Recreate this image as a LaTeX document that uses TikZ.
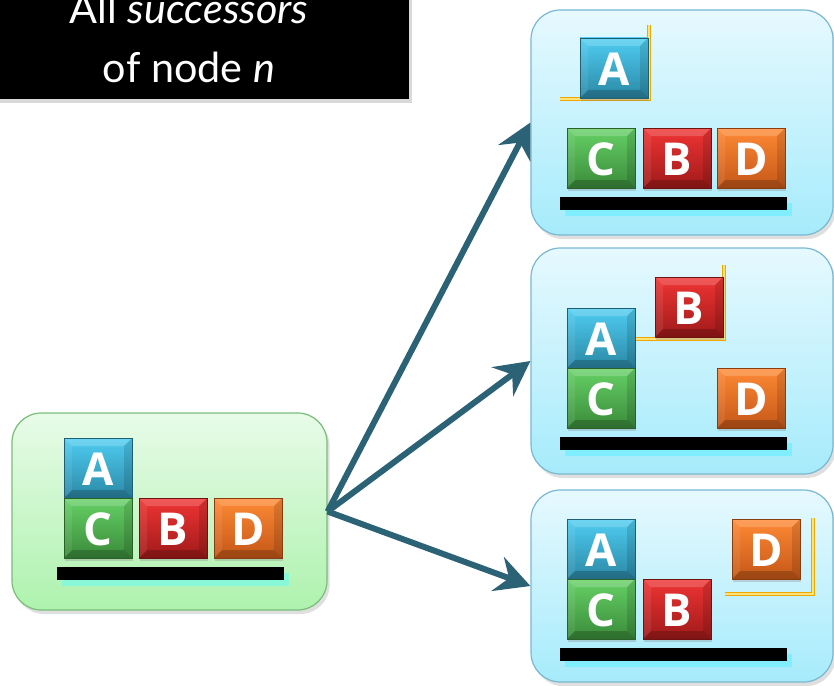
\documentclass[tikz,border=0pt]{standalone}
\usepackage{fontspec}
\usetikzlibrary{shadows,arrows.meta}
\newfontfamily\titlefont{Lato}
\newfontfamily\blkfont{Open Sans}
\definecolor{Atop}{HTML}{4FCDF2}
\definecolor{Abot}{HTML}{2B88A6}
\definecolor{Ctop}{HTML}{66D166}
\definecolor{Cbot}{HTML}{3A8A3A}
\definecolor{Btop}{HTML}{F03434}
\definecolor{Bbot}{HTML}{A01A1A}
\definecolor{Dtop}{HTML}{FF8A35}
\definecolor{Dbot}{HTML}{C45718}
\definecolor{arrcol}{HTML}{2B6275}
\definecolor{yelline}{HTML}{F0A800}
\definecolor{yelfill}{HTML}{FFE27A}
\definecolor{gtop}{HTML}{E8FBE8}
\definecolor{gbot}{HTML}{AEF2AE}
\definecolor{gborder}{HTML}{78BE78}
\definecolor{btop}{HTML}{E6F9FE}
\definecolor{bbot}{HTML}{A6EBFB}
\definecolor{bborder}{HTML}{78B8D2}
\definecolor{mint}{HTML}{88F8D8}
\definecolor{cyanish}{HTML}{80EEFF}
\tikzset{
  statebox/.style={draw=#1border, line width=0.9pt, top color=#1top, bottom color=#1bot,
    rounded corners=22pt, inner sep=0pt,
    drop shadow={shadow xshift=2pt, shadow yshift=-3pt, opacity=.25}},
  blktext/.style={text=white, font=\blkfont\bfseries\fontsize{34}{34}\selectfont, inner sep=0pt},
  blkshadow/.style={drop shadow={shadow xshift=1pt, shadow yshift=-2pt, opacity=.3}},
  titletext/.style={text=white, font=\titlefont\fontsize{31}{34}\selectfont, inner sep=0pt, anchor=base},
  arr/.style={draw=arrcol, line width=4.5pt, -{Stealth[length=26pt,width=27pt,inset=9pt]}},
  holdline/.style={draw=yelline, line width=0.7pt, double=yelfill, double distance=1.3pt},
}
\newcommand\blk[5]{%
  \path[blkshadow, fill=#4bot] (#2,#3) rectangle ++(68,60);
  \shade[top color=#4top, bottom color=#4bot] (#2,#3) rectangle ++(68,60);
  \fill[white,opacity=.18] (#2,#3) -- ++(68,0) -- ++(-8,8) -- ++(-52,0) -- cycle;
  \fill[white,opacity=.08] (#2,#3) -- ++(8,8) -- ++(0,44) -- ++(-8,8) -- cycle;
  \fill[black,opacity=.12] (#2+68,#3) -- ++(0,60) -- ++(-8,-8) -- ++(0,-44) -- cycle;
  \fill[black,opacity=.2] (#2,#3+60) -- ++(68,0) -- ++(-8,-8) -- ++(-52,0) -- cycle;
  \draw[#4bot!70!black, line width=.4pt] (#2,#3) rectangle ++(68,60);
  \node[blktext] (#1) at (#2+34,#3+31) {#5};
}
\newcommand\tablebar[3]{%
  \fill[#3] (#1+5,#2+6) rectangle ++(227,13);
  \fill[black] (#1,#2) rectangle ++(227,13);
}
\begin{document}
\begin{tikzpicture}[x=0.75pt,y=-0.75pt]
\useasboundingbox (0,0) rectangle (834,685);
% title
\fill[black, drop shadow={shadow xshift=2pt, shadow yshift=-3pt, opacity=.3}] (-10,-10) rectangle (409,99);
\node[titletext] (t1) at (189,24) {All \textit{successors}};
\node[titletext] (t2) at (189,82) {of node \textit{n}};
% state boxes
\node[statebox=g, minimum width=236.25pt, minimum height=147.75pt] (s0) at (169.5,511.5) {};
\node[statebox=b, minimum width=226.5pt, minimum height=168.75pt] (s1) at (682,122.5) {};
\node[statebox=b, minimum width=226.5pt, minimum height=169.5pt] (s2) at (682,361) {};
\node[statebox=b, minimum width=226.5pt, minimum height=144pt] (s3) at (682,586) {};
% arrows
\draw[arr] (s0.east) -- (s1.west);
\draw[arr] (s0.east) -- (s2.west);
\draw[arr] (s0.east) -- (s3.west);
% s0
\tablebar{57}{567}{mint}
\blk{a0}{64}{438}{A}{A}
\blk{c0}{64}{498}{C}{C}
\blk{b0}{139}{498}{B}{B}
\blk{d0}{214}{498}{D}{D}
% s1
\tablebar{560}{197}{cyanish}
\draw[holdline] (560,99) -- (649,99) -- (649,25);
\blk{a1}{580}{38}{A}{A}
\blk{c1}{567}{128}{C}{C}
\blk{b1}{643}{128}{B}{B}
\blk{d1}{717}{128}{D}{D}
% s2
\tablebar{560}{437}{cyanish}
\draw[holdline] (635,339) -- (724,339) -- (724,265);
\blk{b2}{655}{277}{B}{B}
\blk{a2}{567}{308}{A}{A}
\blk{c2}{567}{368}{C}{C}
\blk{d2}{717}{368}{D}{D}
% s3
\tablebar{560}{648}{cyanish}
\draw[holdline] (725,594) -- (813,594) -- (813,518);
\blk{a3}{567}{519}{A}{A}
\blk{c3}{567}{579}{C}{C}
\blk{b3}{643}{579}{B}{B}
\blk{d3}{732}{519}{D}{D}
\end{tikzpicture}
\end{document}
